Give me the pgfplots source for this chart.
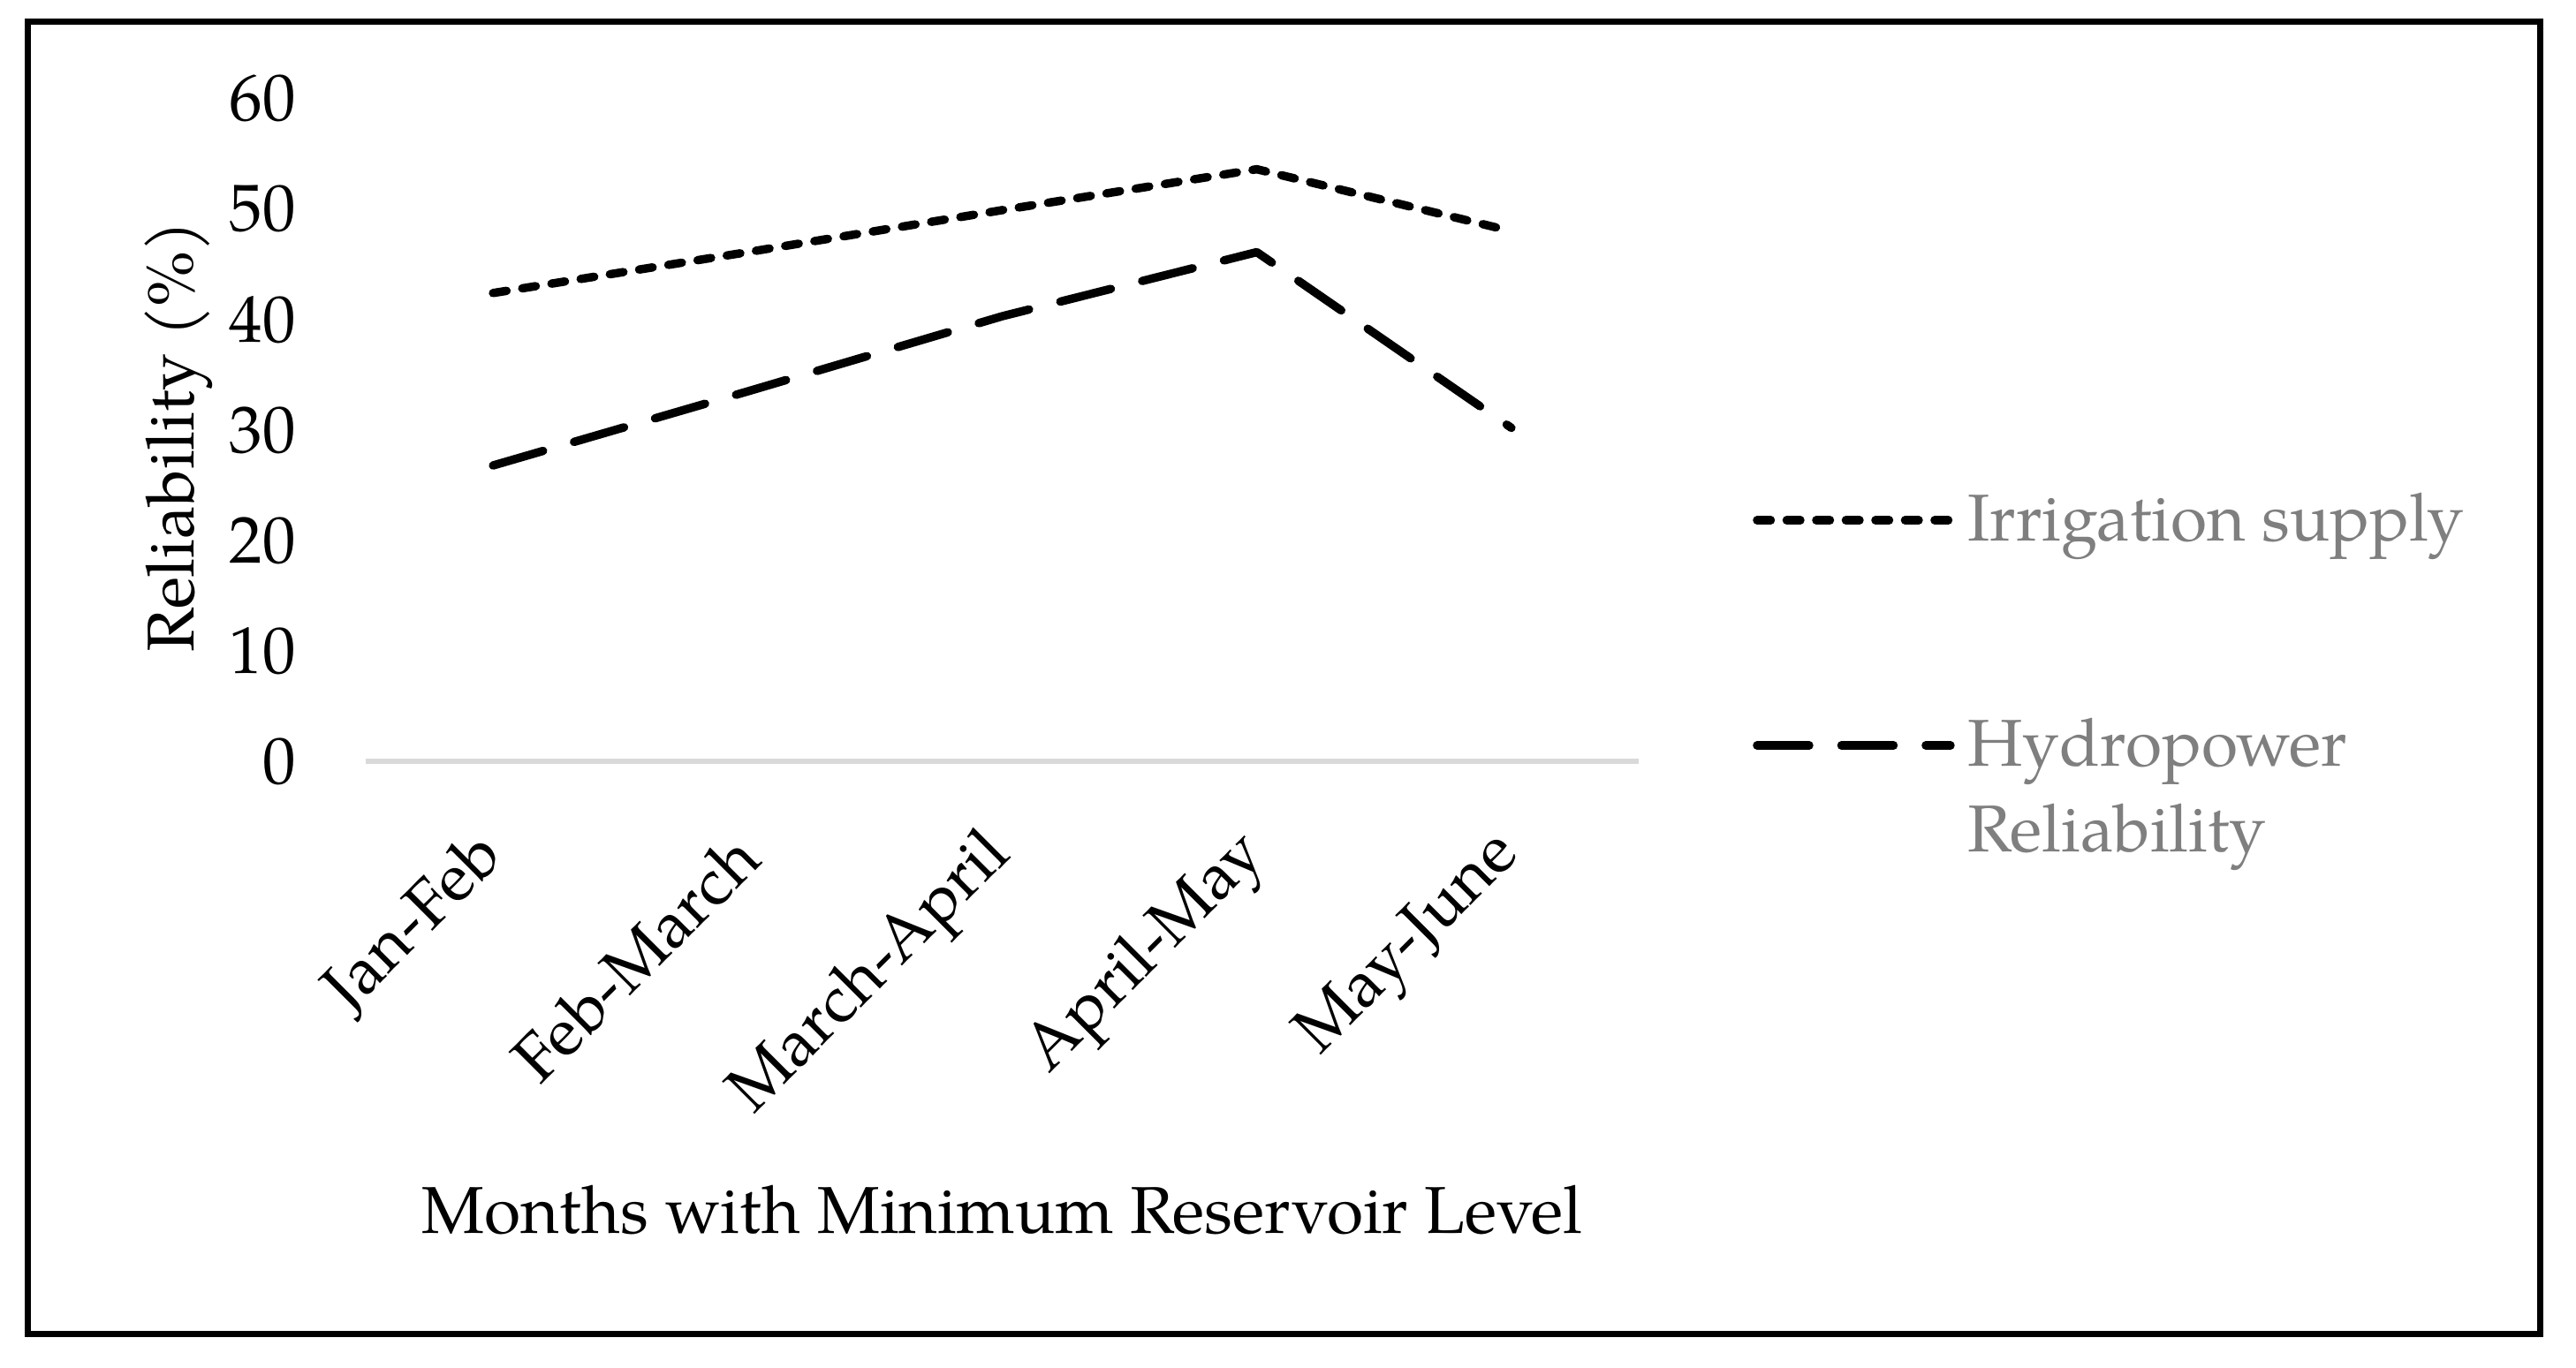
\documentclass[border=0pt]{standalone}
\usepackage{fontspec}
\setmainfont{TeX Gyre Pagella}
\usepackage{pgfplots}
\pgfplotsset{compat=1.18}
\definecolor{zeroline}{HTML}{D9D9D9}
\definecolor{legtext}{HTML}{7F7F7F}
\newcommand{\fs}{\fontsize{15}{19.5}\selectfont}
\begin{document}
\begin{tikzpicture}
\useasboundingbox (-82.8pt,-137.3pt) rectangle (500.4pt,172.5pt);
\draw[line width=1.4pt] (-76.4pt,-129.7pt) rectangle (492.2pt,167.5pt);
\begin{axis}[
    scale only axis,
    width=288.2pt, height=150.2pt,
    xmin=-0.5, xmax=4.5,
    ymin=0, ymax=60,
    axis lines*=left,
    y axis line style={draw=none},
    x axis line style={zeroline, line width=1.2pt, -},
    major tick length=0pt,
    xtick={0,1,2,3,4},
    xticklabels={Jan-Feb,Feb-March,March-April,April-May,May-June},
    ytick={0,10,...,60},
    /pgf/number format/assume math mode=true,
    tick label style={font=\fs, inner sep=0pt},
    yticklabel style={anchor=east, xshift=-15.6pt},
    xticklabel style={yshift=-19pt, xshift=0pt, rotate=45, anchor=east},
    xlabel={Months with Minimum Reservoir Level},
    ylabel={Reliability (\%)},
    label style={font=\fs},
    xlabel style={at={(axis description cs:0.5,-0.676)}, anchor=center},
    ylabel style={at={(axis description cs:-0.147,0.49)}, anchor=center},
    legend style={at={(axis description cs:1.0786,0.42)}, anchor=north west,
        draw=none, fill=none, font=\fs, text=legtext,
        nodes={inner sep=0pt}, column sep=2.9pt, row sep=38.6pt,
        cells={anchor=west, align=left}},
    legend image code/.code={\draw[#1] (0pt,0pt) -- (43.8pt,0pt);},
]
% irrigation supply reliability
\addplot[black, line width=1.9pt, line cap=round, line join=round,
    dash pattern=on 3.1pt off 3.6pt]
    coordinates {(0,42.4) (1,46.1) (2,49.9) (3,53.6) (4,48.0)};
\addlegendentry{Irrigation supply}
% hydropower reliability
\addplot[black, line width=1.9pt, line cap=round, line join=round,
    dash pattern=on 11.8pt off 7.3pt]
    coordinates {(0,26.8) (1,33.5) (2,40.3) (3,46.1) (4,30.2)};
\addlegendentry{\rlap{\raisebox{-19.5pt}[0pt][0pt]{Reliability}}Hydropower}
\end{axis}
\end{tikzpicture}
\end{document}
